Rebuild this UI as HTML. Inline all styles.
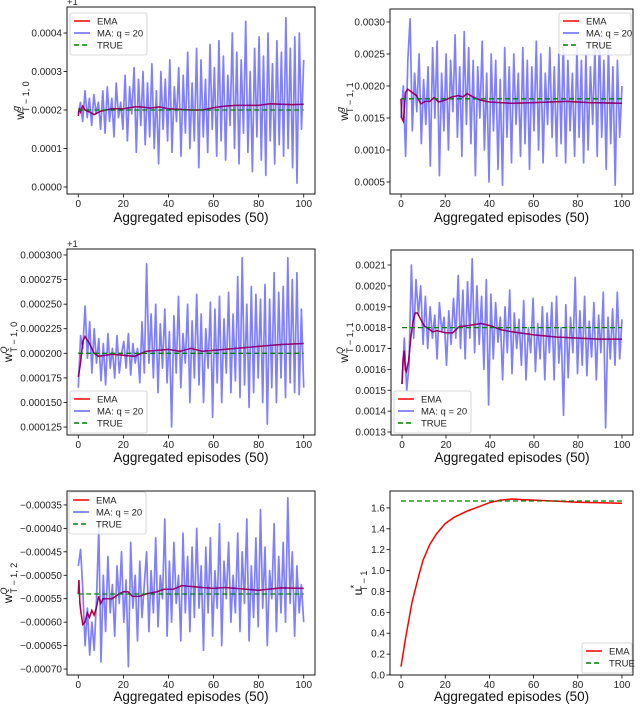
<!DOCTYPE html>
<html><head><meta charset="utf-8"><style>
html,body{margin:0;padding:0;background:#fff;}
svg{display:block;font-family:"Liberation Sans","DejaVu Sans",sans-serif;}
</style></head><body>
<svg id="fig" width="640" height="705" viewBox="0 0 640 705"></svg>
<script>
// ---- Panel 1: w^g_{T-1,0} (units 1e-4, +1 offset)
const p1MA = [1.9,2.2,1.7,2.5,1.8,2.3,1.6,2.4,1.9,2.2,1.5,2.5,1.4,2.6,1.7,2.3,1.3,2.7,1.8,2.2,1.5,2.9,1.2,2.6,1.9,3.1,0.9,2.8,1.6,3.0,1.1,2.7,1.3,3.2,1.0,2.5,0.6,3.0,1.5,2.8,1.2,3.3,0.9,2.6,1.7,3.1,0.8,2.9,1.4,3.5,1.0,2.7,1.2,3.6,0.5,3.3,1.3,2.8,0.9,3.7,1.5,3.1,0.8,3.8,1.2,3.4,0.7,2.9,1.6,4.0,1.0,3.5,0.6,3.3,1.4,4.3,0.9,3.0,0.4,3.6,1.3,3.9,0.7,3.4,0.3,4.0,1.2,3.2,0.6,3.8,1.1,3.5,0.8,4.4,1.0,3.6,0.5,3.9,0.1,4.0,1.5,3.3];
const p1EMAx = [0,0.5,1,2,3,5,7,10,15,20,25,28,32,36,40,50,55,60,65,70,75,80,85,90,95,100];
const p1EMAy = [1.85,2.05,1.95,2.1,2.0,1.95,1.88,1.97,2.03,2.03,2.08,2.08,2.05,2.08,2.03,2.0,2.0,2.06,2.1,2.12,2.12,2.12,2.16,2.15,2.14,2.15];
const p1True = 2.0;
const p1Ticks = [0,1,2,3,4];
const p1TickLabels = ["0.0000","0.0001","0.0002","0.0003","0.0004"];
// ---- Panel 2: w^g_{T-1,1} (units 1e-3)
const p2MA = [1.5,2.0,0.9,2.4,3.05,1.3,2.2,1.6,2.5,1.1,2.1,1.4,2.3,0.75,2.6,1.5,2.7,0.6,2.2,1.3,2.5,1.0,2.4,1.6,2.8,1.2,2.3,0.9,2.85,1.4,2.6,1.1,2.4,0.6,2.3,1.5,2.7,1.0,2.2,0.5,2.5,1.3,2.4,0.7,2.1,0.45,2.6,1.2,2.3,0.8,2.5,1.4,2.2,0.9,2.6,1.1,2.4,0.7,2.3,1.3,2.7,1.0,2.5,0.8,2.2,1.4,2.6,1.2,2.3,0.9,2.5,1.1,2.7,0.8,2.4,1.3,2.2,0.9,2.6,1.2,2.4,0.8,2.5,1.0,2.3,1.4,2.6,0.9,2.8,1.2,2.4,0.7,2.6,1.1,2.3,0.45,2.4,1.2,2.0];
const p2EMAx = [0,0.3,1,1.5,2,3,5,7,9,11,13,15,17,20,23,26,28,30,33,36,40,50,60,75,85,100];
const p2EMAy = [1.8,1.5,1.45,1.65,1.9,1.95,1.9,1.85,1.72,1.76,1.76,1.82,1.75,1.78,1.83,1.85,1.83,1.88,1.82,1.78,1.75,1.73,1.74,1.76,1.74,1.73];
const p2True = 1.8;
const p2Ticks = [0.5,1.0,1.5,2.0,2.5,3.0];
const p2TickLabels = ["0.0005","0.0010","0.0015","0.0020","0.0025","0.0030"];
// ---- Panel 3: w^Q_{T-1,0} (units 1e-6, +1 offset)
const p3MA = [165,218,205,248,195,232,180,225,190,215,172,210,168,220,185,205,175,218,180,200,212,185,220,178,210,190,205,170,232,180,291,190,240,175,250,160,230,185,245,170,222,125,238,180,258,165,220,190,250,150,233,175,260,168,240,150,225,185,252,135,245,170,258,150,235,180,262,160,240,172,278,155,297,168,250,145,268,160,260,175,255,150,270,128,255,165,282,150,262,175,268,155,297,170,275,160,282,158,245,165];
const p3EMAx = [0,1,2,3,5,7,9,12,15,20,25,30,35,40,45,50,55,60,70,80,90,100];
const p3EMAy = [176,190,212,217,210,200,197,198,199,198,197,202,203,204,202,205,202,203,205,207,209,210];
const p3True = 200;
const p3Ticks = [125,150,175,200,225,250,275,300];
const p3TickLabels = ["0.000125","0.000150","0.000175","0.000200","0.000225","0.000250","0.000275","0.000300"];
// ---- Panel 4: w^Q_{T-1,1} (units 1e-4)
const p4MA = [15.3,17.5,15.0,16.2,21.0,17.5,20.3,18.6,20.0,17.2,19.5,17.0,19.0,17.5,18.6,16.5,19.2,17.8,18.5,16.2,18.8,17.2,19.4,17.5,20.5,17.0,19.8,16.5,20.2,17.5,21.3,16.8,20.0,17.2,19.5,16.0,20.3,14.3,19.6,16.5,19.2,17.3,18.5,15.5,19.0,16.8,19.8,15.8,18.7,17.0,18.4,16.2,19.3,15.5,18.0,16.8,19.4,15.9,18.2,16.5,19.0,15.5,18.7,16.8,19.2,15.5,19.5,16.3,18.0,13.8,19.1,15.6,18.5,16.8,20.4,15.8,18.8,16.2,19.5,15.7,18.3,16.6,19.2,15.5,18.6,16.8,19.7,13.2,18.5,16.5,18.9,16.2,19.7,16.5,18.4];
const p4EMAx = [0,0.5,1,1.5,2,3,4,5,6,7,8,10,12,14,16,18,20,23,26,30,33,36,40,45,50,60,70,80,90,100];
const p4EMAy = [15.3,16.5,16.9,16.0,15.9,16.4,17.5,18.3,18.7,18.7,18.5,18.1,17.95,17.8,17.85,17.8,17.75,17.75,18.05,18.1,18.15,18.2,18.1,17.9,17.8,17.65,17.55,17.5,17.45,17.45];
const p4True = 18;
const p4Ticks = [13,14,15,16,17,18,19,20,21];
const p4TickLabels = ["0.0013","0.0014","0.0015","0.0016","0.0017","0.0018","0.0019","0.0020","0.0021"];
// ---- Panel 5: w^Q_{T-1,2} (units 1e-5)
const p5MA = [-48,-44.5,-53,-65,-57,-67,-60,-66,-55,-40,-68.5,-50,-62,-46,-58,-52,-63,-48,-56,-45,-60,-51,-69.5,-43,-57,-50,-64,-47,-59,-52,-45,-62,-49,-58,-42,-61,-50,-55,-38,-63,-47,-60,-43,-56,-50,-64,-41,-58,-46,-62,-44,-59,-40,-57,-48,-66,-44,-58,-42,-63,-49,-57,-39,-65,-47,-55,-43,-60,-50,-58,-41,-62,-45,-56,-38,-64,-48,-59,-42,-61,-36,-57,-44,-65,-49,-55,-39,-62,-46,-58,-43,-60,-33.5,-56,-45,-63,-48,-58,-52,-60];
const p5EMAx = [0,0.3,0.7,1.2,2,3,4,5,6,7,8,9,10,11,13,15,18,20,22,24,27,30,35,38,42,46,55,60,65,70,80,90,100];
const p5EMAy = [-54,-51,-56,-58,-60.5,-60,-58,-59,-57.5,-58.5,-57,-54.5,-56,-55,-55,-55,-54,-53.5,-53.5,-54.5,-54.5,-54,-53.5,-53,-53,-52.2,-52.6,-52.8,-52.6,-52.8,-53.2,-52.7,-52.8];
const p5True = -54;
const p5Ticks = [-70,-65,-60,-55,-50,-45,-40,-35];
const p5TickLabels = ["\u22120.00070","\u22120.00065","\u22120.00060","\u22120.00055","\u22120.00050","\u22120.00045","\u22120.00040","\u22120.00035"];
// ---- Panel 6: u*_{T-1}
const p6EMAx = [0,2,5,8,10,13,16,20,24,30,35,40,45,50,55,60,70,80,90,100];
const p6EMAy = [0.08,0.35,0.7,0.95,1.1,1.25,1.35,1.45,1.51,1.57,1.61,1.65,1.675,1.685,1.68,1.675,1.665,1.655,1.65,1.645];
const p6True = 1.666;
const p6Ticks = [0,0.2,0.4,0.6,0.8,1.0,1.2,1.4,1.6];
const p6TickLabels = ["0.0","0.2","0.4","0.6","0.8","1.0","1.2","1.4","1.6"];
const xTicks = [0,20,40,60,80,100];

const NS = "http://www.w3.org/2000/svg";
const fig = document.getElementById("fig");
function mk(tag, attrs, parent){ const e=document.createElementNS(NS,tag); for(const k in attrs) e.setAttribute(k,attrs[k]); (parent||fig).appendChild(e); return e; }

function panel(c){
  const g = mk("g",{});
  
  
  const xs = v => c.x0 + (v-(-5))/(110)*(c.x1-c.x0);
  const ys = v => c.y1 - (v-c.ymin)/(c.ymax-c.ymin)*(c.y1-c.y0);
  const cid = "clip-"+c.name;
  const cp = mk("clipPath",{id:cid},g); mk("rect",{x:c.x0,y:c.y0,width:c.x1-c.x0,height:c.y1-c.y0},cp);
  const pg = mk("g",{"clip-path":"url(#"+cid+")"},g);
  const emaD = c.emaX.map((x,i)=>(i?"L":"M")+xs(x).toFixed(1)+","+ys(c.emaY[i]).toFixed(1)).join("");
  const ema = mk("path",{d:emaD,fill:"none",stroke:"#ff0000","stroke-width":1.5},pg);
  
  
  if(c.ma){
    const n=c.ma.length;
    const d = c.ma.map((v,i)=>(i?"L":"M")+xs(i*100/(n-1)).toFixed(1)+","+ys(v).toFixed(1)).join("");
    const ma = mk("path",{d:d,fill:"none",stroke:"#0000ff","stroke-opacity":0.5,"stroke-width":1.7,"stroke-linejoin":"round"},pg);
    
    
    const ema2 = mk("path",{d:emaD,fill:"none",stroke:"#800080","stroke-width":1.3,"stroke-opacity":0.6},pg);
    
    
  }
  const tl = mk("line",{x1:xs(0),x2:xs(100),y1:ys(c.truth),y2:ys(c.truth),stroke:"#008000","stroke-width":1.3,"stroke-dasharray":"5,3"},pg);
  
  
  const fr = mk("rect",{x:c.x0,y:c.y0,width:c.x1-c.x0,height:c.y1-c.y0,fill:"none",stroke:"#000","stroke-width":0.9},g);
  
  
  xTicks.forEach(t=>{
    mk("line",{x1:xs(t),x2:xs(t),y1:c.y1,y2:c.y1+3.5,stroke:"#000","stroke-width":0.8},g);
    const tx = mk("text",{x:xs(t),y:c.y1+13,"font-size":10,"text-anchor":"middle",fill:"#222"},g);
    tx.textContent = t;
    
    
  });
  c.ticks.forEach((t,i)=>{
    mk("line",{x1:c.x0-3.5,x2:c.x0,y1:ys(t),y2:ys(t),stroke:"#000","stroke-width":0.8},g);
    const tx = mk("text",{x:c.x0-5,y:ys(t)+3.5,"font-size":10,"text-anchor":"end",fill:"#222"},g);
    tx.textContent = c.tickLabels[i];
    
    
  });
  const xl = mk("text",{x:(c.x0+c.x1)/2,y:c.y1+c.xlOff,"font-size":13.5,"text-anchor":"middle",fill:"#111"},g);
  xl.textContent = "Aggregated episodes (50)";
  
  
  const yl = mk("text",{transform:"translate("+c.ylx+","+((c.y0+c.y1)/2)+") rotate(-90)","font-size":12,"text-anchor":"middle",fill:"#111"},g);
  const t1=mk("tspan",{},yl); t1.textContent=c.ybase;
  const t2=mk("tspan",{dy:-5,"font-size":9,"font-style":"italic"},yl); t2.textContent=c.ysup;
  const t3=mk("tspan",{dx:-6,dy:10,"font-size":9},yl); t3.textContent=c.ysub;
  
  
  if(c.offset){
    const o = mk("text",{x:c.x0,y:c.y0-2,"font-size":9.5,fill:"#222"},g);
    o.textContent="+1";
    
    
  }
  const L = c.leg;
  const lg = mk("g",{},g);
  
  
  const entries = c.ma ? [["EMA","#ff0000",""],["MA: q = 20","#6666ff",""],["TRUE","#008000","5,3"]] : [["EMA","#ff0000",""],["TRUE","#008000","5,3"]];
  mk("rect",{x:L[0],y:L[1],width:L[2],height:entries.length*12+6,rx:2,fill:"#fff","fill-opacity":0.85,stroke:"#ccc","stroke-width":0.8},lg);
  entries.forEach((e,i)=>{
    const y = L[1]+8+i*12;
    mk("line",{x1:L[0]+4,x2:L[0]+20,y1:y,y2:y,stroke:e[1],"stroke-width":1.5,"stroke-dasharray":e[2]},lg);
    const tx = mk("text",{x:L[0]+27,y:y+3.5,"font-size":9.5,fill:"#222"},lg);
    tx.textContent = e[0];
    
    
  });
}

panel({name:"panel-wg-t1-0",x0:67,x1:315,y0:7,y1:194,ymin:-0.182,ymax:4.675,ma:p1MA,emaX:p1EMAx,emaY:p1EMAy,truth:p1True,ticks:p1Ticks,tickLabels:p1TickLabels,ylx:24,ybase:"w",ysup:"g",ysub:"T \u2212 1, 0",offset:true,leg:[70,13,77],xlOff:28});
panel({name:"panel-wg-t1-1",x0:390,x1:633,y0:9,y1:194,ymin:0.3125,ymax:3.203,ma:p2MA,emaX:p2EMAx,emaY:p2EMAy,truth:p2True,ticks:p2Ticks,tickLabels:p2TickLabels,ylx:348,ybase:"w",ysup:"g",ysub:"T \u2212 1, 1",offset:false,leg:[559,13,72],xlOff:28});
panel({name:"panel-wq-t1-0",x0:67,x1:315,y0:249,y1:435,ymin:116.9,ymax:306.1,ma:p3MA,emaX:p3EMAx,emaY:p3EMAy,truth:p3True,ticks:p3Ticks,tickLabels:p3TickLabels,ylx:12,ybase:"w",ysup:"Q",ysub:"T \u2212 1, 0",offset:true,leg:[70,391,77],xlOff:27});
panel({name:"panel-wq-t1-1",x0:391,x1:633,y0:250,y1:435,ymin:12.856,ymax:21.72,ma:p4MA,emaX:p4EMAx,emaY:p4EMAy,truth:p4True,ticks:p4Ticks,tickLabels:p4TickLabels,ylx:348,ybase:"w",ysup:"Q",ysub:"T \u2212 1, 1",offset:false,leg:[394,391,77],xlOff:27});
panel({name:"panel-wq-t1-2",x0:67,x1:315,y0:491,y1:675,ymin:-71.27,ymax:-32.03,ma:p5MA,emaX:p5EMAx,emaY:p5EMAy,truth:p5True,ticks:p5Ticks,tickLabels:p5TickLabels,ylx:12,ybase:"w",ysup:"Q",ysub:"T \u2212 1, 2",offset:false,leg:[69,492,77],xlOff:26});
panel({name:"panel-u-star",x0:390,x1:633,y0:491,y1:675,ymin:0,ymax:1.762,ma:null,emaX:p6EMAx,emaY:p6EMAy,truth:p6True,ticks:p6Ticks,tickLabels:p6TickLabels,ylx:362,ybase:"u",ysup:"*",ysub:"T \u2212 1",offset:false,leg:[582,643,50],xlOff:26});
</script>
</body></html>
